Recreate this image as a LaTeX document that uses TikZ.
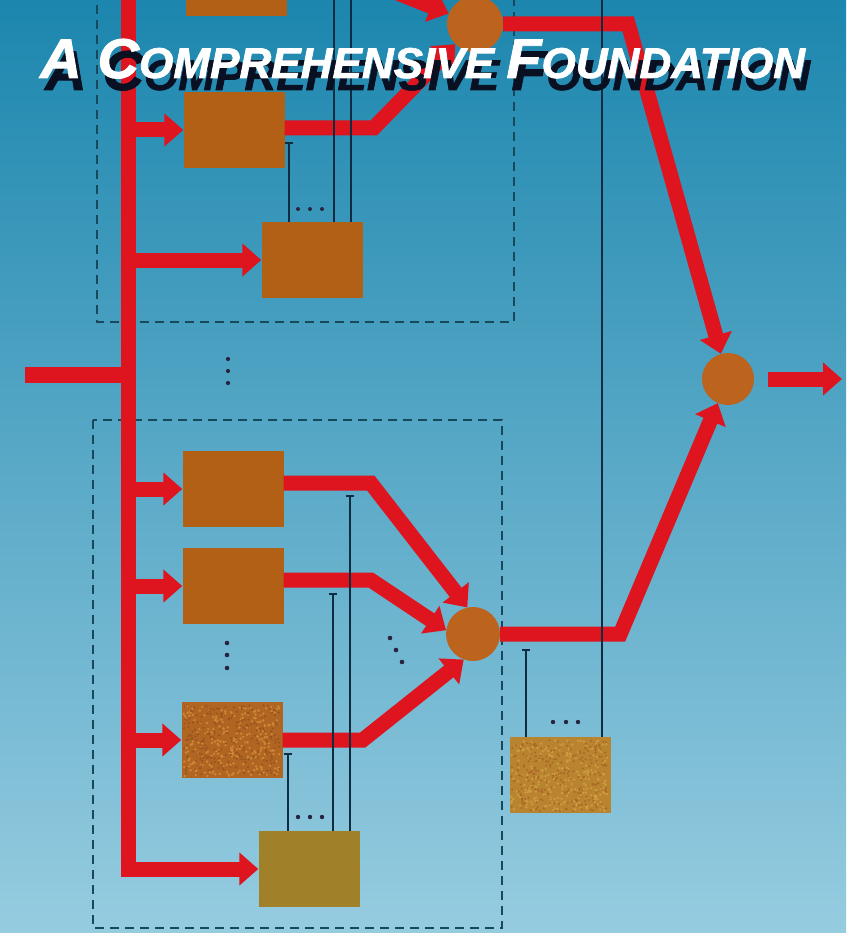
\documentclass[tikz,border=0pt]{standalone}
\usepackage{graphicx}
\usepackage{fontspec}
\setmainfont{Liberation Sans}
\newfontfamily\coverfont{Liberation Sans}[FakeBold=1.6]
\usetikzlibrary{arrows.meta,calc}
\definecolor{bgtop}{RGB}{28,134,174}
\definecolor{bgmid}{RGB}{68,166,202}
\definecolor{bgbot}{RGB}{150,204,224}
\definecolor{wire}{RGB}{222,20,30}
\definecolor{boxbrown}{RGB}{178,96,22}
\definecolor{boxolive}{RGB}{160,128,40}
\definecolor{spkbase}{RGB}{176,102,34}
\definecolor{spklight}{RGB}{206,136,54}
\definecolor{spkdark}{RGB}{150,82,30}
\definecolor{ochbase}{RGB}{184,132,48}
\definecolor{ochlight}{RGB}{206,156,64}
\definecolor{ochdark}{RGB}{172,100,38}
\definecolor{neuroncol}{RGB}{188,100,30}
\definecolor{fbcol}{RGB}{16,44,66}
\definecolor{dashcol}{RGB}{24,72,92}
\definecolor{dotcol}{RGB}{40,36,64}
\definecolor{titleshadow}{RGB}{8,16,34}
\newcommand\covertitle{\scalebox{1.025}[1]{\coverfont\bfseries\itshape{\fontsize{56}{56}\selectfont A C}{\fontsize{43}{43}\selectfont OMPREHENSIVE }{\fontsize{56}{56}\selectfont F}{\fontsize{43}{43}\selectfont OUNDATION}}}
\tikzset{
  unitbox/.style={rectangle, fill=boxbrown, minimum width=101pt, minimum height=76pt, inner sep=0pt},
  neuron/.style={circle, fill=neuroncol, minimum size=#1, inner sep=0pt},
  redarrow/.style={draw=wire, line width=15pt, line join=miter, -{Triangle[length=19pt,width=32pt]}},
  redline/.style={draw=wire, line width=16pt, line join=miter},
  fb/.style={draw=fbcol, line width=1.8pt},
  fbtick/.style={draw=fbcol, line width=2.2pt},
  dbox/.style={draw=dashcol, line width=1.8pt, dash pattern=on 9pt off 6pt},
  dotmark/.style={fill=dotcol},
  titletxt/.style={inner sep=0pt, anchor=base west}
}
\begin{document}
\begin{tikzpicture}[x=1pt,y=-1pt]
\useasboundingbox (0,0) rectangle (846,933);
\clip (0,0) rectangle (846,933);
\shade[top color=bgtop, middle color=bgmid, bottom color=bgbot] (0,0) rectangle (846,933);

% dashed module frames
\draw[dbox] (97,-10) -- (97,322) -- (514,322) -- (514,-10);
\draw[dbox] (93,420) rectangle (502,928);

% boxes
\node[unitbox] (b1) at (236,-22) {};
\node[unitbox] (b2) at (234,130) {};
\node[unitbox] (b3) at (312,260) {};
\node[unitbox] (bA) at (233,489) {};
\node[unitbox] (bB) at (233,586) {};
\node[unitbox, fill=spkbase] (bC) at (232,740) {};
\node[unitbox, fill=boxolive] (bD) at (309,869) {};
\node[unitbox, fill=ochbase] (bE) at (560,775) {};

% speckle texture
\pgfmathsetseed{17}
\foreach \i in {1,...,260}{
  \fill[spklight] ($(bC.south west)+(2+rnd*96,-2-rnd*71)$) circle (1.3pt);
  \fill[spkdark] ($(bC.south west)+(2+rnd*96,-2-rnd*71)$) circle (1.1pt);
  \fill[ochlight] ($(bE.south west)+(2+rnd*96,-2-rnd*71)$) circle (1.3pt);
  \fill[ochdark] ($(bE.south west)+(2+rnd*96,-2-rnd*71)$) circle (1.1pt);
}

% neurons
\node[neuron=56pt] (c1) at (475,24) {};
\node[neuron=54pt] (c2) at (473,634) {};
\node[neuron=52pt] (cout) at (728,379) {};

% input and bus
\coordinate (in) at (25,375);
\coordinate (bustop) at (128,-10);
\coordinate (buscorner) at (128,869);
\coordinate (outend) at (842,379);
\coordinate (topfeed) at (395,-8);
\draw[redline] (in) -- (bustop |- in);
\draw[redarrow] (bustop) -- (buscorner) -- (bD.west);
\draw[redarrow] (bustop |- b2.west) -- (b2.west);
\draw[redarrow] (bustop |- b3.west) -- (b3.west);
\draw[redarrow] (bustop |- bA.west) -- (bA.west);
\draw[redarrow] (bustop |- bB.west) -- (bB.west);
\draw[redarrow] (bustop |- bC.west) -- (bC.west);

% unit outputs to neurons
\draw[redarrow] ([yshift=2pt]b2.east) -- ++(89,0) -- (c1);
\draw[redarrow] (topfeed) -- (c1);
\draw[redarrow] ([yshift=6pt]bA.east) -- ++(87,0) -- (c2.102);
\draw[redarrow] ([yshift=6pt]bB.east) -- ++(87,0) -- (c2.172);
\draw[redarrow] (bC.east) -- ++(80,0) -- (c2.250);
\draw[redarrow] (c1.east) -- ++(125,0) -- (cout);
\draw[redarrow] (c2.east) -- ++(120,0) -- (cout);
\draw[redarrow] ([xshift=14pt]cout.east) -- (outend);

% feedback lines, top module
\draw[fb] ([xshift=28pt]b3.north west) -- ++(0,-79);
\draw[fbtick] ([xshift=24pt,yshift=79pt]b3.north west) -- ++(8,0);
\draw[fb] ([xshift=73pt]b3.north west) -- ++(0,-240);
\draw[fb] ([xshift=90pt]b3.north west) -- ++(0,-240);
\foreach \x in {298,310,322} \fill[dotmark] (\x,209) circle (2.0pt);

% feedback lines, bottom module
\draw[fb] ([xshift=30pt]bD.north west) -- ++(0,-77);
\draw[fbtick] ([xshift=26pt,yshift=77pt]bD.north west) -- ++(8,0);
\draw[fb] ([xshift=75pt]bD.north west) -- ++(0,-237);
\draw[fbtick] ([xshift=71pt,yshift=237pt]bD.north west) -- ++(8,0);
\draw[fb] ([xshift=92pt]bD.north west) -- ++(0,-335);
\draw[fbtick] ([xshift=88pt,yshift=335pt]bD.north west) -- ++(8,0);
\foreach \x in {298,310,322} \fill[dotmark] (\x,817) circle (2.2pt);

% feedback lines, output unit
\draw[fb] ([xshift=17pt]bE.north west) -- ++(0,-87);
\draw[fbtick] ([xshift=13pt,yshift=87pt]bE.north west) -- ++(8,0);
\draw[fb] ([xshift=93pt]bE.north west) -- ++(0,-750);
\foreach \x in {553,566,578} \fill[dotmark] (\x,722) circle (2.2pt);

% ellipsis dots
\foreach \y in {359,371,383} \fill[dotmark] (228,\y) circle (2.1pt);
\foreach \y in {643,655,668} \fill[dotmark] (227,\y) circle (2.3pt);
\foreach \p in {(390,638),(396,650),(402,662)} \fill[dotmark] \p circle (2.3pt);

% title
\node[titletxt, text=titleshadow] (tshadow) at (45,90) {\covertitle};
\node[titletxt, text=white] (title) at (40,78) {\covertitle};
\end{tikzpicture}
\end{document}
